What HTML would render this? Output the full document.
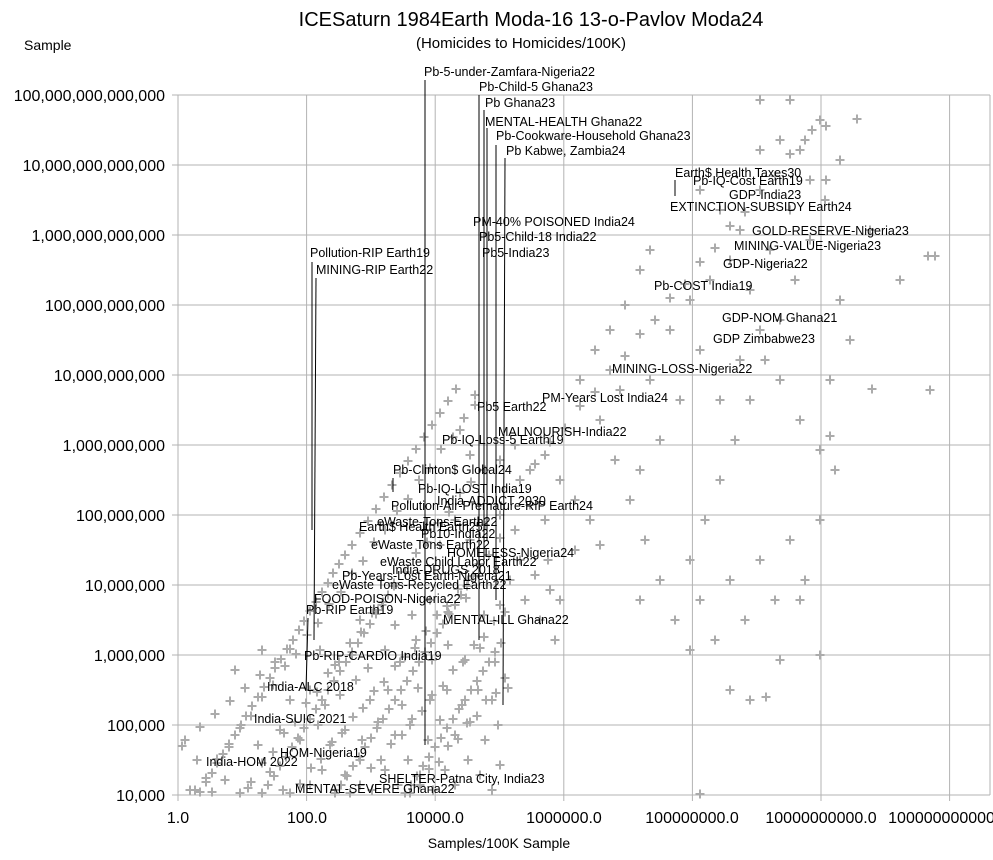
<!DOCTYPE html>
<html><head><meta charset="utf-8"><style>
body{margin:0;background:#fff;}
svg{display:block;font-family:"Liberation Sans",sans-serif;}
</style></head><body>
<svg width="993" height="860" viewBox="0 0 993 860" xmlns="http://www.w3.org/2000/svg">
<defs>
<marker id="p" markerUnits="userSpaceOnUse" markerWidth="12" markerHeight="12" refX="6" refY="6" overflow="visible">
<path d="M1.5,6h9M6,1.5v9" stroke="#ababab" stroke-width="2" fill="none"/>
</marker>
</defs>
<rect width="993" height="860" fill="#fff"/>
<g stroke="#b3b3b3" stroke-width="1">
<line x1="178" y1="95" x2="178" y2="801"/>
<line x1="306.6" y1="95" x2="306.6" y2="801"/>
<line x1="435.2" y1="95" x2="435.2" y2="801"/>
<line x1="563.8" y1="95" x2="563.8" y2="801"/>
<line x1="692.4" y1="95" x2="692.4" y2="801"/>
<line x1="821" y1="95" x2="821" y2="801"/>
<line x1="949.6" y1="95" x2="949.6" y2="801"/>
<line x1="990" y1="95" x2="990" y2="795"/>
<line x1="172" y1="95" x2="990" y2="95"/>
<line x1="172" y1="165" x2="990" y2="165"/>
<line x1="172" y1="235" x2="990" y2="235"/>
<line x1="172" y1="305" x2="990" y2="305"/>
<line x1="172" y1="375" x2="990" y2="375"/>
<line x1="172" y1="445" x2="990" y2="445"/>
<line x1="172" y1="515" x2="990" y2="515"/>
<line x1="172" y1="585" x2="990" y2="585"/>
<line x1="172" y1="655" x2="990" y2="655"/>
<line x1="172" y1="725" x2="990" y2="725"/>
<line x1="172" y1="795" x2="990" y2="795"/>
</g>
<polyline fill="none" stroke="none" marker-start="url(#p)" marker-mid="url(#p)" marker-end="url(#p)" points="
195,790 206,778 217,759 229,747 240,728 251,716 262,697 273,685 285,666 296,654 307,635 318,623 329,604 341,592 352,573 363,561 374,542 385,530 397,511 408,499 419,480 430,468 441,449 453,437 464,418 475,405
240,793 251,782 262,763 273,752 284,733 295,722 306,703 317,692 328,673 339,662 350,643 361,632 372,613 383,602 394,583 405,572 416,553 427,542 438,523 449,512 460,493 471,482
290,793 300,784 311,768 321,759 332,742 342,733 353,717 363,708 374,691 384,682 395,666 405,657 416,640 426,631 437,615 447,606 458,589 468,580 479,564 489,555 500,538
350,793 360,785 371,768 381,760 391,744 402,735 412,719 422,711 432,695 443,686 453,670 463,662 474,645 484,637 494,621 505,612
410,793 420,785 429,769 439,762 448,746 458,739 467,723 477,716 486,700 496,693 505,678
200,792 206,782 212,773 217,763 223,754 229,744 235,735 241,725 246,716 252,706 258,697 264,687 270,678 275,668 281,659 287,649 293,640 299,630 304,621 310,611 316,602 322,592 328,583 333,573 339,564
262,793 268,785 274,776 280,766 286,757 292,747 298,738 304,728 310,719 316,709 322,700 328,690 334,681 340,671 346,662 352,652 358,643 364,633 370,624 376,614 382,605 388,595 394,586
335,793 341,785 347,776 353,766 359,757 365,747 371,738 377,728 383,719 389,709 395,700 401,690 407,681 413,671 419,662 425,652 431,643 437,633 443,624 449,614 455,605 461,595 467,586 473,576
405,793 411,785 417,776 423,766 429,757 435,747 441,738 447,728 453,719 459,709 465,700 471,690 477,681 483,671 489,662 495,652 501,643
345,555 352,545 360,533 368,521 376,509 384,497 392,485 400,473 408,461 416,449 424,437 432,425 440,413 448,401 456,389
520,480 535,464 550,442 565,428 580,406 595,392 610,370 625,356 640,334 655,320 670,298 685,284 700,262 715,248 730,226 745,212 760,190 775,176 790,154 805,140 820,120
185,740 200,727 215,714 230,701 245,688 260,675 275,662 290,649 262,650 235,670 182,746 197,760 190,790 212,792
225,780 248,788 270,772 283,790 310,785 322,770 335,790 345,775 360,760 372,790 385,770 398,785 408,760 420,775 433,790 445,770 455,785 468,760 480,775 492,790 500,765 258,745 280,730 300,740 318,725 330,745 345,730 362,740 378,722 395,735 410,725 428,740 440,720 455,735 470,722 485,740 498,725 290,700 310,690 325,705 340,695 356,680 370,700 388,690 402,705 418,688 430,700 447,690 462,705 478,690 492,700 508,688 320,650 335,665 352,655 368,668 385,650 400,662 415,648 432,660 448,645 465,660 480,648 495,662 360,620 378,610 395,625 412,615 430,600 448,612 466,598 484,615 500,605
425,530 440,545 455,520 470,540 485,525 500,515 515,530 530,505 545,520 520,560 535,575 550,590 510,580 525,600 540,620 555,640 560,600 548,560 530,470 545,455 515,445 500,460 485,470 470,455 460,430 475,395 560,480 575,500 590,520 600,545 575,550
600,420 615,460 630,500 645,540 660,580 675,620 690,560 705,520 720,480 735,440 750,400 765,360 780,320 795,280 810,240 825,200 840,160 700,600 715,640 730,580 745,620 760,560 775,600 790,540 805,580 820,520 835,470 720,400 740,360 760,330 780,380 800,420 820,450 830,380 840,300 700,350 680,400 660,440 640,470 620,390 650,380 670,330 690,300 710,280 730,260 750,290 770,250 790,210 810,180 650,250 640,270 625,305 610,330 595,350 580,380 700,190 720,210 740,230 760,150 780,140 800,150 790,100 760,100 857,119 826,126 826,180 928,256 872,389 830,436 820,655 766,697 700,794 850,340 870,230 900,280 930,390 750,700 730,690 780,660 800,600 690,650 640,600 935,256 812,130"/>
<g stroke="#000" stroke-width="1" fill="none">
<line x1="425" y1="80" x2="425" y2="745"/>
<line x1="479" y1="95" x2="479" y2="640"/>
<line x1="484" y1="110" x2="484" y2="560"/>
<line x1="487" y1="128" x2="487" y2="540"/>
<line x1="496" y1="145" x2="496" y2="600"/>
<line x1="505" y1="158" x2="503" y2="705"/>
<line x1="316" y1="278" x2="314" y2="640"/>
<line x1="312" y1="262" x2="312" y2="530"/>
<line x1="675" y1="180" x2="675" y2="196"/>
<line x1="393" y1="478" x2="393" y2="492"/>
<line x1="308" y1="618" x2="306" y2="690"/>
</g>
<g font-size="16" fill="#000" text-anchor="end">
<text x="165" y="101">100,000,000,000,000</text>
<text x="165" y="171">10,000,000,000,000</text>
<text x="165" y="241">1,000,000,000,000</text>
<text x="165" y="311">100,000,000,000</text>
<text x="165" y="381">10,000,000,000</text>
<text x="165" y="451">1,000,000,000</text>
<text x="165" y="521">100,000,000</text>
<text x="165" y="591">10,000,000</text>
<text x="165" y="661">1,000,000</text>
<text x="165" y="731">100,000</text>
<text x="165" y="801">10,000</text>
</g>
<g font-size="16" fill="#000" text-anchor="middle">
<text x="178" y="823">1.0</text>
<text x="307" y="823">100.0</text>
<text x="435" y="823">10000.0</text>
<text x="564" y="823">1000000.0</text>
<text x="692" y="823">100000000.0</text>
<text x="821" y="823">10000000000.0</text>
<text x="946" y="823">1000000000000</text>
</g>
<text x="499" y="848" font-size="14" text-anchor="middle">Samples/100K Sample</text>
<text x="24" y="50" font-size="14">Sample</text>
<text x="531" y="26" font-size="20" text-anchor="middle">ICESaturn 1984Earth Moda-16 13-o-Pavlov Moda24</text>
<text x="521" y="48" font-size="15" text-anchor="middle">(Homicides to Homicides/100K)</text>
<g font-size="12.5" fill="#000">
<text x="424" y="76">Pb-5-under-Zamfara-Nigeria22</text>
<text x="479" y="91">Pb-Child-5 Ghana23</text>
<text x="485" y="107">Pb Ghana23</text>
<text x="485" y="126">MENTAL-HEALTH Ghana22</text>
<text x="496" y="140">Pb-Cookware-Household Ghana23</text>
<text x="506" y="155">Pb Kabwe, Zambia24</text>
<text x="675" y="177">Earth$ Health Taxes30</text>
<text x="693" y="185">Pb-IQ-Cost Earth19</text>
<text x="729" y="199">GDP-India23</text>
<text x="670" y="211">EXTINCTION-SUBSIDY Earth24</text>
<text x="473" y="226">PM-40% POISONED India24</text>
<text x="752" y="235">GOLD-RESERVE-Nigeria23</text>
<text x="479" y="241">Pb5-Child-18 India22</text>
<text x="734" y="250">MINING-VALUE-Nigeria23</text>
<text x="310" y="257">Pollution-RIP Earth19</text>
<text x="482" y="257">Pb5-India23</text>
<text x="723" y="268">GDP-Nigeria22</text>
<text x="316" y="274">MINING-RIP Earth22</text>
<text x="654" y="290">Pb-COST India19</text>
<text x="722" y="322">GDP-NOM Ghana21</text>
<text x="713" y="343">GDP Zimbabwe23</text>
<text x="612" y="373">MINING-LOSS-Nigeria22</text>
<text x="542" y="402">PM-Years Lost India24</text>
<text x="477" y="411">Pb5 Earth22</text>
<text x="498" y="436">MALNOURISH-India22</text>
<text x="442" y="444">Pb-IQ-Loss-5 Earth19</text>
<text x="393" y="474">Pb-Clinton$ Global24</text>
<text x="418" y="493">Pb-IQ-LOST India19</text>
<text x="437" y="505">India-ADDICT 2030</text>
<text x="391" y="510">Pollution-Air-Premature-RIP Earth24</text>
<text x="377" y="526">eWaste-Tons-Earth22</text>
<text x="359" y="531">Earth$ Health Earth25</text>
<text x="421" y="538">Pb10-India22</text>
<text x="371" y="549">eWaste Tons Earth22</text>
<text x="447" y="557">HOMELESS-Nigeria24</text>
<text x="380" y="566">eWaste Child Labor Earth22</text>
<text x="392" y="574">India-DRUGS 2018</text>
<text x="342" y="580">Pb-Years-Lost Earth-Nigeria21</text>
<text x="332" y="589">eWaste Tons-Recycled Earth22</text>
<text x="314" y="603">FOOD-POISON-Nigeria22</text>
<text x="306" y="614">Pb-RIP Earth19</text>
<text x="443" y="624">MENTAL-ILL Ghana22</text>
<text x="304" y="660">Pb-RIP-CARDIO India19</text>
<text x="267" y="691">India-ALC 2018</text>
<text x="254" y="723">India-SUIC 2021</text>
<text x="280" y="757">HOM-Nigeria19</text>
<text x="206" y="766">India-HOM 2022</text>
<text x="379" y="783">SHELTER-Patna City, India23</text>
<text x="295" y="793">MENTAL-SEVERE Ghana22</text>
</g>
</svg>
</body></html>
